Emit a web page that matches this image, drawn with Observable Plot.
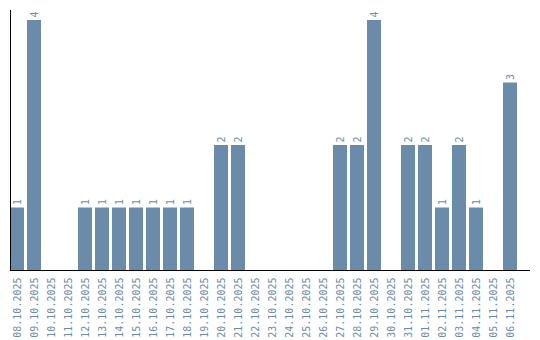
<!DOCTYPE html>
<html>
<head>
<meta charset="utf-8">
<script src="https://cdn.jsdelivr.net/npm/d3@7"></script>
<script src="https://cdn.jsdelivr.net/npm/@observablehq/plot@0.6"></script>
<style>
body { margin: 0; background: #fff; }
</style>
</head>
<body>
<div id="chart"></div>
<script>
const dates = ["08.10.2025","09.10.2025","10.10.2025","11.10.2025","12.10.2025","13.10.2025","14.10.2025","15.10.2025","16.10.2025","17.10.2025","18.10.2025","19.10.2025","20.10.2025","21.10.2025","22.10.2025","23.10.2025","24.10.2025","25.10.2025","26.10.2025","27.10.2025","28.10.2025","29.10.2025","30.10.2025","31.10.2025","01.11.2025","02.11.2025","03.11.2025","04.11.2025","05.11.2025","06.11.2025"];
const counts = [1,4,0,0,1,1,1,1,1,1,1,0,2,2,0,0,0,0,0,2,2,4,0,2,2,1,2,1,0,3];

const data = dates.map((d, i) => ({date: d, count: counts[i]}));
const barColor = "#6a8caa";
const font = "DejaVu Sans Mono";

const chart = Plot.plot({
  width: 540,
  height: 340,
  marginTop: 10,
  marginRight: 10,
  marginBottom: 70,
  marginLeft: 10,
  style: {fontFamily: font, fontSize: "10px", background: "white"},
  x: {domain: dates, paddingInner: 0.176, paddingOuter: 0.38, align: 0, label: null},
  y: {domain: [0, 4.16], axis: null},
  marks: [
    Plot.barY(data, {x: "date", y: "count", fill: barColor}),
    Plot.text(data.filter(d => d.count > 0), {
      x: "date", y: "count", text: d => String(d.count),
      rotate: -90, textAnchor: "start", dy: -3,
      fill: barColor, fontFamily: font, fontSize: 10
    }),
    Plot.axisX({tickRotate: -90, tickSize: 0, tickPadding: 7, color: barColor, fontFamily: font, fontSize: 10, label: null}),
    Plot.ruleY([0], {stroke: "black"}),
    Plot.frame({anchor: "left", stroke: "black"})
  ]
});
document.getElementById("chart").appendChild(chart);
</script>
</body>
</html>
